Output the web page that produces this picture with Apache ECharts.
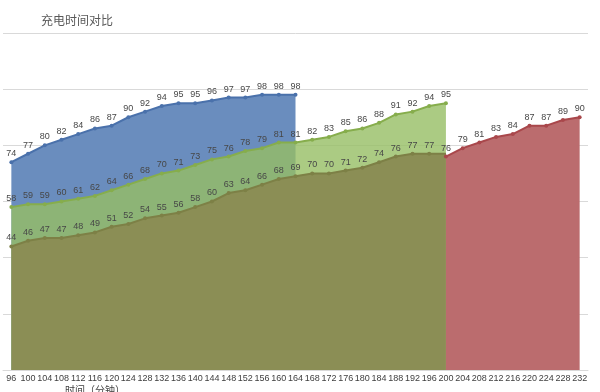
<!DOCTYPE html>
<html>
<head>
<meta charset="utf-8">
<script src="https://cdn.jsdelivr.net/npm/echarts@6/dist/echarts.min.js"></script>
<style>html,body{margin:0;padding:0;background:#fff}#c{width:600px;height:392px}</style>
</head>
<body>
<div id="c"></div>
<script>
var categories = ['96','100','104','108','112','116','120','124','128','132','136','140','144','148','152','156','160','164','168','172','176','180','184','188','192','196','200','204','208','212','216','220','224','228','232'];
var blueVals = [74,77,80,82,84,86,87,90,92,94,95,95,96,97,97,98,98,98];
var greenVals = [58,59,59,60,61,62,64,66,68,70,71,73,75,76,78,79,81,81,82,83,85,86,88,91,92,94,95];
var oliveVals = [44,46,47,47,48,49,51,52,54,55,56,58,60,63,64,66,68,69,70,70,71,72,74,76,77,77,77];
var oliveHiddenLabel = 26;
var redVals = [76,79,81,83,84,87,87,89,90];
var redStart = 26;
var titleText = '充电时间对比';
var xName = '时间（分钟）';

function place(vals, start, hideIdx) {
  var out = [];
  for (var i = 0; i < categories.length; i++) {
    var k = i - start;
    var v = (k >= 0 && k < vals.length) ? vals[k] : null;
    if (v !== null && i === hideIdx) {
      out.push({ value: v, label: { show: false }, symbolSize: 0 });
    } else {
      out.push(v);
    }
  }
  return out;
}

function mk(name, data, line, fill, z) {
  return {
    name: name, type: 'line', data: data, z: z,
    symbol: 'circle', symbolSize: 4,
    lineStyle: { color: line, width: 2 },
    itemStyle: { color: line },
    areaStyle: { color: fill, opacity: 1 },
    label: { show: true, position: 'top', distance: 2, fontSize: 9, color: '#474747', fontFamily: 'Liberation Sans' },
    animation: false
  };
}

var chart = echarts.init(document.getElementById('c'));
chart.setOption({
  animation: false,
  title: [
    { text: titleText, left: 36, top: 9, textStyle: { fontSize: 12, fontWeight: 'normal', color: '#595959', fontFamily: 'Noto Sans CJK SC' } },
    { text: xName, left: 60, top: 380, textStyle: { fontSize: 10, fontWeight: 'normal', color: '#404040', fontFamily: 'Noto Sans CJK SC' } }
  ],
  grid: { left: 3, right: 12, top: 33, bottom: 22 },
  xAxis: {
    type: 'category', data: categories, boundaryGap: true,
    axisTick: { show: false },
    axisLine: { lineStyle: { color: '#d9d9d9' } },
    axisLabel: { interval: 0, fontSize: 9, color: '#404040', margin: 4, fontFamily: 'Liberation Sans' }
  },
  yAxis: {
    type: 'value', min: 0, max: 120, interval: 20,
    axisLabel: { show: false }, axisLine: { show: false }, axisTick: { show: false },
    splitLine: { lineStyle: { color: '#d9d9d9' } }
  },
  series: [
    mk('blue', place(blueVals, 0, -1), '#4a71ab', 'rgb(106,141,190)', 1),
    mk('green', place(greenVals, 0, -1), '#86ad4c', 'rgba(150,190,100,0.8)', 2),
    mk('olive', place(oliveVals, 0, oliveHiddenLabel), '#7d8046', 'rgb(139,142,85)', 3),
    mk('red', place(redVals, redStart, -1), '#a9474b', 'rgb(187,108,110)', 4)
  ]
});
</script>
</body>
</html>
